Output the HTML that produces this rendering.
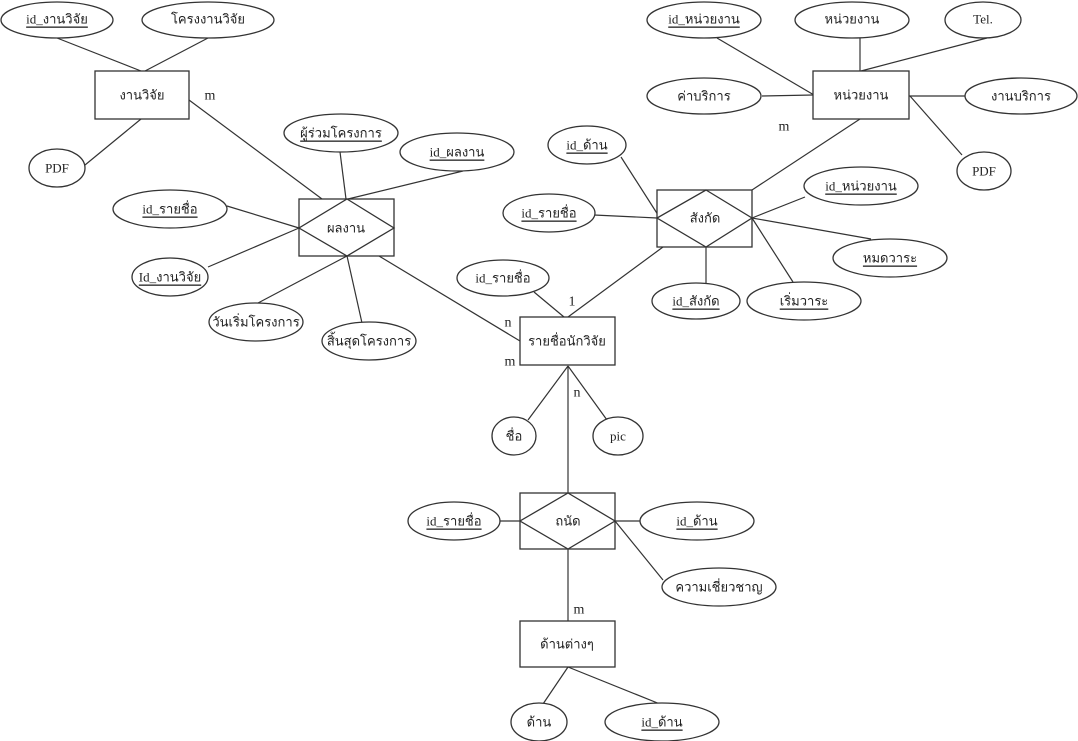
<!DOCTYPE html>
<html><head><meta charset="utf-8"><style>
html,body{margin:0;padding:0;background:#fff;}
svg{display:block;}
text{font-family:"Liberation Serif","DejaVu Serif",serif;font-size:13px;fill:#222;text-anchor:middle;dominant-baseline:central;}
.u{text-decoration:underline;}
.c{font-size:14px;}
ellipse,rect,polygon{fill:#fff;stroke:#333;stroke-width:1.3;}
line{stroke:#333;stroke-width:1.2;}
</style></head><body>
<svg width="1078" height="741" viewBox="0 0 1078 741">
<line x1="57" y1="38" x2="141" y2="71"/>
<line x1="208" y1="38" x2="145" y2="71"/>
<line x1="85" y1="165" x2="141" y2="119"/>
<line x1="189" y1="100" x2="322" y2="199"/>
<line x1="340" y1="152" x2="346" y2="199"/>
<line x1="463" y1="171" x2="348" y2="199"/>
<line x1="227" y1="206" x2="299" y2="228"/>
<line x1="208" y1="267" x2="299" y2="228"/>
<line x1="258" y1="303" x2="347" y2="256"/>
<line x1="362" y1="323" x2="347" y2="256"/>
<line x1="379" y1="256" x2="520" y2="341"/>
<line x1="717" y1="38" x2="814" y2="95"/>
<line x1="860" y1="38" x2="860" y2="71"/>
<line x1="987" y1="38" x2="861" y2="71"/>
<line x1="762" y1="96" x2="813" y2="95"/>
<line x1="965" y1="96" x2="909" y2="96"/>
<line x1="962" y1="155" x2="910" y2="96"/>
<line x1="860" y1="119" x2="752" y2="190"/>
<line x1="621" y1="157" x2="660" y2="218"/>
<line x1="594" y1="215" x2="657" y2="218"/>
<line x1="805" y1="197" x2="752" y2="218"/>
<line x1="871" y1="239" x2="752" y2="218"/>
<line x1="793" y1="282" x2="752" y2="218"/>
<line x1="706" y1="283" x2="706" y2="247"/>
<line x1="663" y1="247" x2="568" y2="317"/>
<line x1="534" y1="292" x2="564" y2="317"/>
<line x1="568" y1="366" x2="568" y2="493"/>
<line x1="528" y1="420" x2="568" y2="366"/>
<line x1="607" y1="420" x2="568" y2="366"/>
<line x1="499" y1="521" x2="520" y2="521"/>
<line x1="640" y1="521" x2="615" y2="521"/>
<line x1="663" y1="580" x2="615" y2="521"/>
<line x1="568" y1="549" x2="568" y2="621"/>
<line x1="568" y1="667" x2="543" y2="704"/>
<line x1="568" y1="667" x2="660" y2="704"/>

<rect x="95" y="71" width="94" height="48"/><text x="142" y="95">งานวิจัย</text>
<rect x="813" y="71" width="96" height="48"/><text x="861" y="95">หน่วยงาน</text>
<rect x="520" y="317" width="95" height="48"/><text x="567" y="341">รายชื่อนักวิจัย</text>
<rect x="520" y="621" width="95" height="46"/><text x="567" y="644">ด้านต่างๆ</text>

<rect x="299" y="199" width="95" height="57"/><polygon points="347,199 394,228 347,256 299,228"/><text x="346" y="228">ผลงาน</text>
<rect x="657" y="190" width="95" height="57"/><polygon points="706,190 752,218 706,247 657,218"/><text x="705" y="218">สังกัด</text>
<rect x="520" y="493" width="95" height="56"/><polygon points="568,493 615,521 568,549 520,521"/><text x="568" y="521">ถนัด</text>

<ellipse cx="57" cy="20" rx="56" ry="18"/><text x="57" y="19" class="u">id_งานวิจัย</text>
<ellipse cx="208" cy="20" rx="66" ry="18"/><text x="208" y="19">โครงงานวิจัย</text>
<ellipse cx="57" cy="168" rx="28" ry="19"/><text x="57" y="168">PDF</text>
<ellipse cx="341" cy="133" rx="57" ry="19"/><text x="341" y="133" class="u">ผู้ร่วมโครงการ</text>
<ellipse cx="457" cy="152" rx="57" ry="19"/><text x="457" y="152" class="u">id_ผลงาน</text>
<ellipse cx="170" cy="209" rx="57" ry="19"/><text x="170" y="209" class="u">id_รายชื่อ</text>
<ellipse cx="170" cy="277" rx="38" ry="19"/><text x="170" y="277" class="u">Id_งานวิจัย</text>
<ellipse cx="256" cy="322" rx="47" ry="19"/><text x="256" y="322">วันเริ่มโครงการ</text>
<ellipse cx="369" cy="341" rx="47" ry="19"/><text x="369" y="341">สิ้นสุดโครงการ</text>
<ellipse cx="704" cy="20" rx="57" ry="18"/><text x="704" y="19" class="u">id_หน่วยงาน</text>
<ellipse cx="852" cy="20" rx="57" ry="18"/><text x="852" y="19">หน่วยงาน</text>
<ellipse cx="983" cy="20" rx="38" ry="18"/><text x="983" y="19">Tel.</text>
<ellipse cx="704" cy="96" rx="57" ry="18"/><text x="704" y="96">ค่าบริการ</text>
<ellipse cx="1021" cy="96" rx="56" ry="18"/><text x="1021" y="96">งานบริการ</text>
<ellipse cx="984" cy="171" rx="27" ry="19"/><text x="984" y="171">PDF</text>
<ellipse cx="587" cy="145" rx="39" ry="19"/><text x="587" y="145" class="u">id_ด้าน</text>
<ellipse cx="549" cy="213" rx="46" ry="19"/><text x="549" y="213" class="u">id_รายชื่อ</text>
<ellipse cx="861" cy="186" rx="57" ry="19"/><text x="861" y="186" class="u">id_หน่วยงาน</text>
<ellipse cx="890" cy="258" rx="57" ry="19"/><text x="890" y="258" class="u">หมดวาระ</text>
<ellipse cx="696" cy="301" rx="44" ry="18"/><text x="696" y="301" class="u">id_สังกัด</text>
<ellipse cx="804" cy="301" rx="57" ry="19"/><text x="804" y="301" class="u">เริ่มวาระ</text>
<ellipse cx="503" cy="278" rx="46" ry="18"/><text x="503" y="278">id_รายชื่อ</text>
<ellipse cx="514" cy="436" rx="22" ry="19"/><text x="514" y="436">ชื่อ</text>
<ellipse cx="618" cy="436" rx="25" ry="19"/><text x="618" y="436">pic</text>
<ellipse cx="454" cy="521" rx="46" ry="19"/><text x="454" y="521" class="u">id_รายชื่อ</text>
<ellipse cx="697" cy="521" rx="57" ry="19"/><text x="697" y="521" class="u">id_ด้าน</text>
<ellipse cx="719" cy="587" rx="57" ry="19"/><text x="719" y="587">ความเชี่ยวชาญ</text>
<ellipse cx="539" cy="722" rx="28" ry="19"/><text x="539" y="722">ด้าน</text>
<ellipse cx="662" cy="722" rx="57" ry="19"/><text x="662" y="722" class="u">id_ด้าน</text>

<text x="210" y="96" class="c">m</text>
<text x="508" y="323" class="c">n</text>
<text x="510" y="362" class="c">m</text>
<text x="784" y="127" class="c">m</text>
<text x="572" y="302" class="c">1</text>
<text x="577" y="393" class="c">n</text>
<text x="579" y="610" class="c">m</text>
</svg>
</body></html>
